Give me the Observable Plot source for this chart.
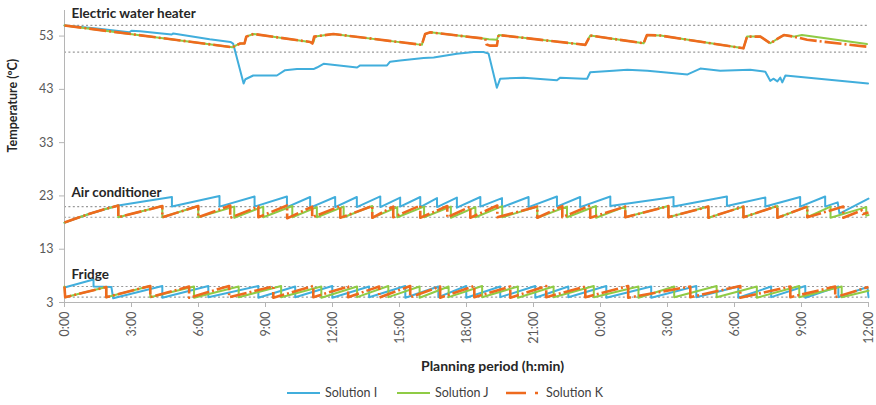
<!DOCTYPE html>
<html><head><meta charset="utf-8">
<script src="https://cdn.jsdelivr.net/npm/d3@7"></script>
<script src="https://cdn.jsdelivr.net/npm/@observablehq/plot@0.6"></script>
<style>
body{margin:0;background:#fff;font-family:Lato,"Open Sans",sans-serif;}
#wrap{position:relative;width:876px;height:405px;overflow:hidden;}
#legend{position:relative;height:25px;font-size:12.5px;color:#404040;}
.li{position:absolute;top:0;height:25px;display:flex;align-items:center;white-space:nowrap;}
</style></head><body>
<div id="wrap"><div id="chart"></div><div id="legend"></div></div>
<script>
// ---- data (time in hours from start, temperature in °C) ----
const seriesNames = ["Solution I", "Solution J", "Solution K"];
const seriesColors = ["#41AEDC", "#8FCB45", "#EE6A1E"];
const deviceNames = ["Electric water heater", "Air conditioner", "Fridge"];
const labelTemps = [57.2, 23.6, 8.2];
const refTemps = [55, 50, 21, 19, 6, 4];
const yTicks = [3, 13, 23, 33, 43, 53];
const xTicks = [0, 3, 6, 9, 12, 15, 18, 21, 24, 27, 30, 33, 36];
const xTickLabels = ["0:00","3:00","6:00","9:00","12:00","15:00","18:00","21:00","0:00","3:00","6:00","9:00","12:00"];

const whI = [[0,55.0],[1.45,54.4],[2.9,53.7],[3.0,54.0],[3.39,53.9],[4.14,53.6],[4.8,53.3],[4.87,53.5],[6.5,52.4],[7.43,51.9],[7.55,51.6],[8.02,44.1],[8.1,44.9],[8.45,45.6],[9.51,45.6],[9.88,46.6],[10.41,46.8],[11.15,46.8],[11.3,47.1],[11.6,47.8],[13.1,47.1],[13.24,47.5],[14.44,47.5],[14.58,48.2],[15.03,48.4],[16.08,48.9],[16.53,49.0],[17.57,49.7],[18.32,50.0],[18.76,50.0],[18.99,49.7],[19.36,43.3],[19.51,45.0],[20.56,45.2],[22.05,44.7],[22.2,45.2],[23.24,45.0],[23.4,45.0],[23.54,46.2],[24.57,46.5],[25.2,46.7],[26.1,46.5],[27.9,45.8],[28.47,46.9],[29.36,46.5],[30.7,46.7],[31.38,46.3],[31.6,44.6],[31.74,45.0],[31.92,44.5],[32.05,45.2],[32.14,44.3],[32.28,45.6],[35.98,44.1]];
const whJ = [[0,55.0],[7.52,50.9],[7.7,51.3],[7.87,51.6],[8.06,51.6],[8.14,52.9],[8.46,53.4],[11.14,51.8],[11.22,52.9],[12.04,53.4],[16.0,51.35],[16.15,53.4],[16.38,53.7],[18.84,52.5],[19.0,52.4],[19.36,52.3],[19.44,53.2],[23.32,51.35],[23.54,53.1],[25.93,51.65],[26.08,53.2],[26.68,53.1],[30.4,50.7],[30.56,52.9],[31.16,52.9],[31.6,51.65],[32.05,52.8],[32.21,53.2],[32.65,52.9],[33.02,53.2],[35.93,51.5]];
const whK = [[0,55.0],[7.52,50.9],[7.7,51.3],[7.87,51.6],[8.06,51.6],[8.14,52.9],[8.46,53.4],[11.0,51.9],[11.1,51.6],[11.18,52.9],[12.04,53.4],[16.0,51.35],[16.15,53.4],[16.38,53.7],[18.84,52.5],[18.9,51.4],[19.06,51.2],[19.36,51.2],[19.44,53.2],[23.32,51.35],[23.54,53.1],[25.93,51.65],[26.08,53.2],[26.68,53.1],[30.4,50.7],[30.56,52.9],[31.16,52.9],[31.6,51.65],[32.05,52.8],[32.21,53.2],[32.65,52.9],[33.25,52.3],[35.93,51.0]];

const acI = [[0,18.0],[0.6,18.9],[1.2,19.75],[1.8,20.5],[2.41,21.2],[3.6,22.0],[4.81,22.8],[4.81,21.0],[6.94,23.0],[6.94,21.0],[8.51,22.9],[8.51,21.0],[9.96,22.9],[9.96,20.9],[11.0,22.8],[11.0,20.8],[12.12,22.8],[12.12,20.9],[13.09,22.8],[13.09,20.9],[14.14,22.9],[14.14,20.9],[15.03,22.7],[15.03,21.0],[15.93,22.8],[15.93,20.9],[16.68,22.6],[16.68,20.9],[17.57,22.7],[17.57,20.8],[18.62,22.8],[18.62,21.0],[19.59,22.6],[19.59,20.9],[20.78,22.8],[20.78,20.9],[22.05,22.9],[22.05,21.0],[23.09,22.8],[23.09,20.9],[24.44,22.9],[24.44,21.1],[27.27,22.8],[27.27,21.0],[29.66,22.9],[29.66,21.1],[31.38,22.7],[31.38,21.0],[32.94,22.8],[32.94,21.0],[34.06,22.9],[34.06,21.0],[34.62,21.8],[34.7,19.7],[36,22.5]];
const acJ = [[0,18.0],[0.6,18.9],[1.2,19.75],[1.8,20.5],[2.41,21.2],[2.41,19.0],[4.38,21.1],[4.38,19.0],[5.99,21.1],[5.99,19.0],[7.6,21.0],[7.6,18.9],[8.9,21.0],[8.9,19.0],[10.2,21.1],[10.2,19.0],[11.3,20.9],[11.3,19.0],[12.5,21.0],[12.5,19.0],[13.78,21.1],[13.78,18.9],[14.9,20.9],[14.9,19.0],[16.1,21.0],[16.1,19.0],[17.3,21.0],[17.3,18.9],[18.4,20.9],[18.4,19.0],[19.6,21.1],[19.6,19.0],[21.17,21.0],[21.17,18.9],[22.5,21.0],[22.5,19.0],[23.8,21.1],[23.8,18.9],[25.11,21.0],[25.11,19.0],[27.04,21.1],[27.04,19.0],[28.83,21.0],[28.83,18.9],[30.4,21.0],[30.4,19.0],[31.92,21.1],[31.92,18.9],[33.26,21.0],[33.26,19.0],[34.3,21.0],[34.3,18.9],[35.9,20.9],[35.9,19.3],[36,19.4]];
const acK = [[0,18.0],[0.6,18.9],[1.2,19.75],[1.8,20.5],[2.41,21.2],[2.41,19.0],[4.38,21.1],[4.38,19.0],[5.99,21.1],[5.99,19.0],[7.42,21.2],[7.42,18.9],[8.68,21.0],[8.68,19.0],[9.97,21.2],[9.97,18.8],[11.09,21.0],[11.09,19.0],[12.35,21.1],[12.35,18.9],[13.78,21.1],[13.78,18.9],[14.72,21.0],[14.72,19.0],[15.93,21.2],[15.93,18.9],[17.14,21.1],[17.14,19.0],[18.17,21.0],[18.17,18.9],[19.38,21.2],[19.38,19.0],[21.17,21.0],[21.17,18.9],[22.29,21.1],[22.29,19.0],[23.54,21.2],[23.54,18.9],[25.11,21.0],[25.11,19.0],[27.04,21.1],[27.04,19.0],[28.83,21.0],[28.83,18.9],[30.4,21.0],[30.4,19.0],[31.92,21.1],[31.92,18.9],[33.26,21.0],[33.26,19.0],[34.87,21.0],[34.87,18.9],[35.7,20.3],[35.75,19.6],[36,19.9]];

const frI = [[0,5.8],[1.3,7.3],[1.3,6.0],[2.1,5.9],[2.18,3.8],[4.38,6.1],[4.38,3.9],[6.44,6.1],[6.44,4.0],[8.68,6.1],[8.68,3.9],[10.33,6.0],[10.33,4.0],[11.99,6.1],[11.99,3.9],[13.64,6.0],[13.64,4.0],[15.26,6.1],[15.26,3.9],[16.74,6.0],[16.74,4.0],[17.99,6.1],[17.99,3.9],[19.51,6.0],[19.51,4.0],[21.08,6.1],[21.08,3.9],[22.56,6.0],[22.56,4.0],[24.26,6.1],[24.26,3.9],[26.27,6.0],[26.27,3.9],[28.29,6.1],[28.29,4.0],[30.17,6.0],[30.17,3.9],[31.64,6.0],[31.64,4.0],[33.17,6.1],[33.17,3.9],[34.65,6.0],[34.65,4.0],[35.95,5.9],[36,4.0]];
const frJ = [[0,6.0],[0.03,4.0],[1.87,5.9],[1.87,4.0],[3.84,6.1],[3.84,4.0],[5.8,6.0],[5.8,3.9],[7.8,6.0],[7.8,4.0],[9.7,6.1],[9.7,4.0],[11.5,6.0],[11.5,3.9],[13.1,6.0],[13.1,4.0],[14.5,6.1],[14.5,4.0],[15.9,6.0],[15.9,3.9],[17.2,6.0],[17.2,4.0],[18.7,6.1],[18.7,4.0],[20.3,6.0],[20.3,3.9],[21.9,6.0],[21.9,4.0],[23.7,6.1],[23.7,4.0],[25.7,6.0],[25.7,3.9],[27.3,6.0],[27.3,4.0],[29.2,6.1],[29.2,4.0],[31.0,6.0],[31.0,3.9],[32.9,6.1],[32.9,4.0],[34.8,6.0],[34.8,4.0],[36,5.2]];
const frK = [[0,6.0],[0.03,4.0],[1.87,5.9],[1.87,4.0],[3.84,6.1],[3.84,4.0],[5.58,6.0],[5.58,3.9],[7.37,6.1],[7.37,4.0],[9.35,6.0],[9.35,3.9],[11.14,6.1],[11.14,4.0],[12.7,6.0],[12.7,4.0],[14.09,6.0],[14.09,3.9],[15.48,6.1],[15.48,4.0],[16.82,6.0],[16.82,3.9],[18.35,6.1],[18.35,4.0],[19.96,6.0],[19.96,3.9],[21.57,6.1],[21.57,4.0],[23.32,6.0],[23.32,4.0],[25.24,6.1],[25.24,3.9],[28.02,6.0],[28.02,4.0],[30.26,6.1],[30.26,3.9],[32.5,6.0],[32.5,4.0],[34.51,6.0],[34.51,4.0],[36,5.9]];

// ---- build tables ----
const toRows = (arr, device) => arr.map(([t, v]) => ({t, v, device}));
const rowsI = [...toRows(whI, deviceNames[0]), ...toRows(acI, deviceNames[1]), ...toRows(frI, deviceNames[2])];
const rowsJ = [...toRows(whJ, deviceNames[0]), ...toRows(acJ, deviceNames[1]), ...toRows(frJ, deviceNames[2])];
const rowsK = [...toRows(whK, deviceNames[0]), ...toRows(acK, deviceNames[1]), ...toRows(frK, deviceNames[2])];
const labels = deviceNames.map((name, i) => ({name, v: labelTemps[i]}));

const axisGray = "#b5b5b5";
const chart = Plot.plot({
  width: 876, height: 380,
  marginLeft: 64, marginRight: 8, marginTop: 10, marginBottom: 78,
  x: {domain: [0, 36]},
  y: {domain: [3, 57.8]},
  style: {fontFamily: "Lato, 'Open Sans', sans-serif", fontSize: "12px", color: "#595959", background: "white"},
  marks: [
    Plot.ruleY(refTemps, {stroke: "#999999", strokeDasharray: "2,2.4", strokeWidth: 1.2}),
    Plot.ruleX([0], {stroke: axisGray}),
    Plot.ruleY([3], {stroke: axisGray}),
    Plot.axisY({ticks: yTicks, tickSize: 5, tickPadding: 6, label: null, stroke: axisGray, fill: "#595959", fontSize: 12.5}),
    Plot.axisX({ticks: xTicks, tickFormat: d => xTickLabels[xTicks.indexOf(d)], tickRotate: -90, tickSize: 5, tickPadding: 4, label: null, stroke: axisGray, fill: "#595959", fontSize: 12.5}),
    Plot.line(rowsI, {x: "t", y: "v", z: "device", stroke: seriesColors[0], strokeWidth: 2, curve: "linear"}),
    Plot.line(rowsJ, {x: "t", y: "v", z: "device", stroke: seriesColors[1], strokeWidth: 2, curve: "linear"}),
    Plot.line(rowsK, {x: "t", y: "v", z: "device", stroke: seriesColors[2], strokeWidth: 2.6, strokeDasharray: "17,3,2,3", strokeLinecap: "butt", curve: "linear"}),
    Plot.text(labels, {x: () => 0, y: "v", text: "name", textAnchor: "start", dx: 7, fontWeight: "bold", fontSize: 13.5, fill: "#262626"}),
    Plot.text(["Temperature (ºC)"], {frameAnchor: "left", rotate: -90, dx: -52, dy: -4, fontWeight: "bold", fontSize: 12.5, fill: "#262626"}),
    Plot.text(["Planning period (h:min)"], {frameAnchor: "bottom", lineAnchor: "middle", dx: 26, dy: 64, fontWeight: "bold", fontSize: 14, fill: "#262626"})
  ]
});
document.getElementById("chart").appendChild(chart);

// ---- legend (below the SVG) ----
const legendLeft = [287, 397, 506];
const legend = document.getElementById("legend");
seriesNames.forEach((name, i) => {
  const item = document.createElement("div");
  item.className = "li";
  item.style.left = legendLeft[i] + "px";
  const dash = i === 2 ? 'stroke-dasharray="20,9,3,30"' : "";
  const w = 33;
  item.innerHTML = `<svg width="${w}" height="6" style="margin-right:${i===2?7:5}px"><line x1="0" y1="3" x2="${w}" y2="3" stroke="${seriesColors[i]}" stroke-width="${i===2?2.6:2}" ${dash}/></svg><span>${name}</span>`;
  legend.appendChild(item);
});
</script>
</body></html>
